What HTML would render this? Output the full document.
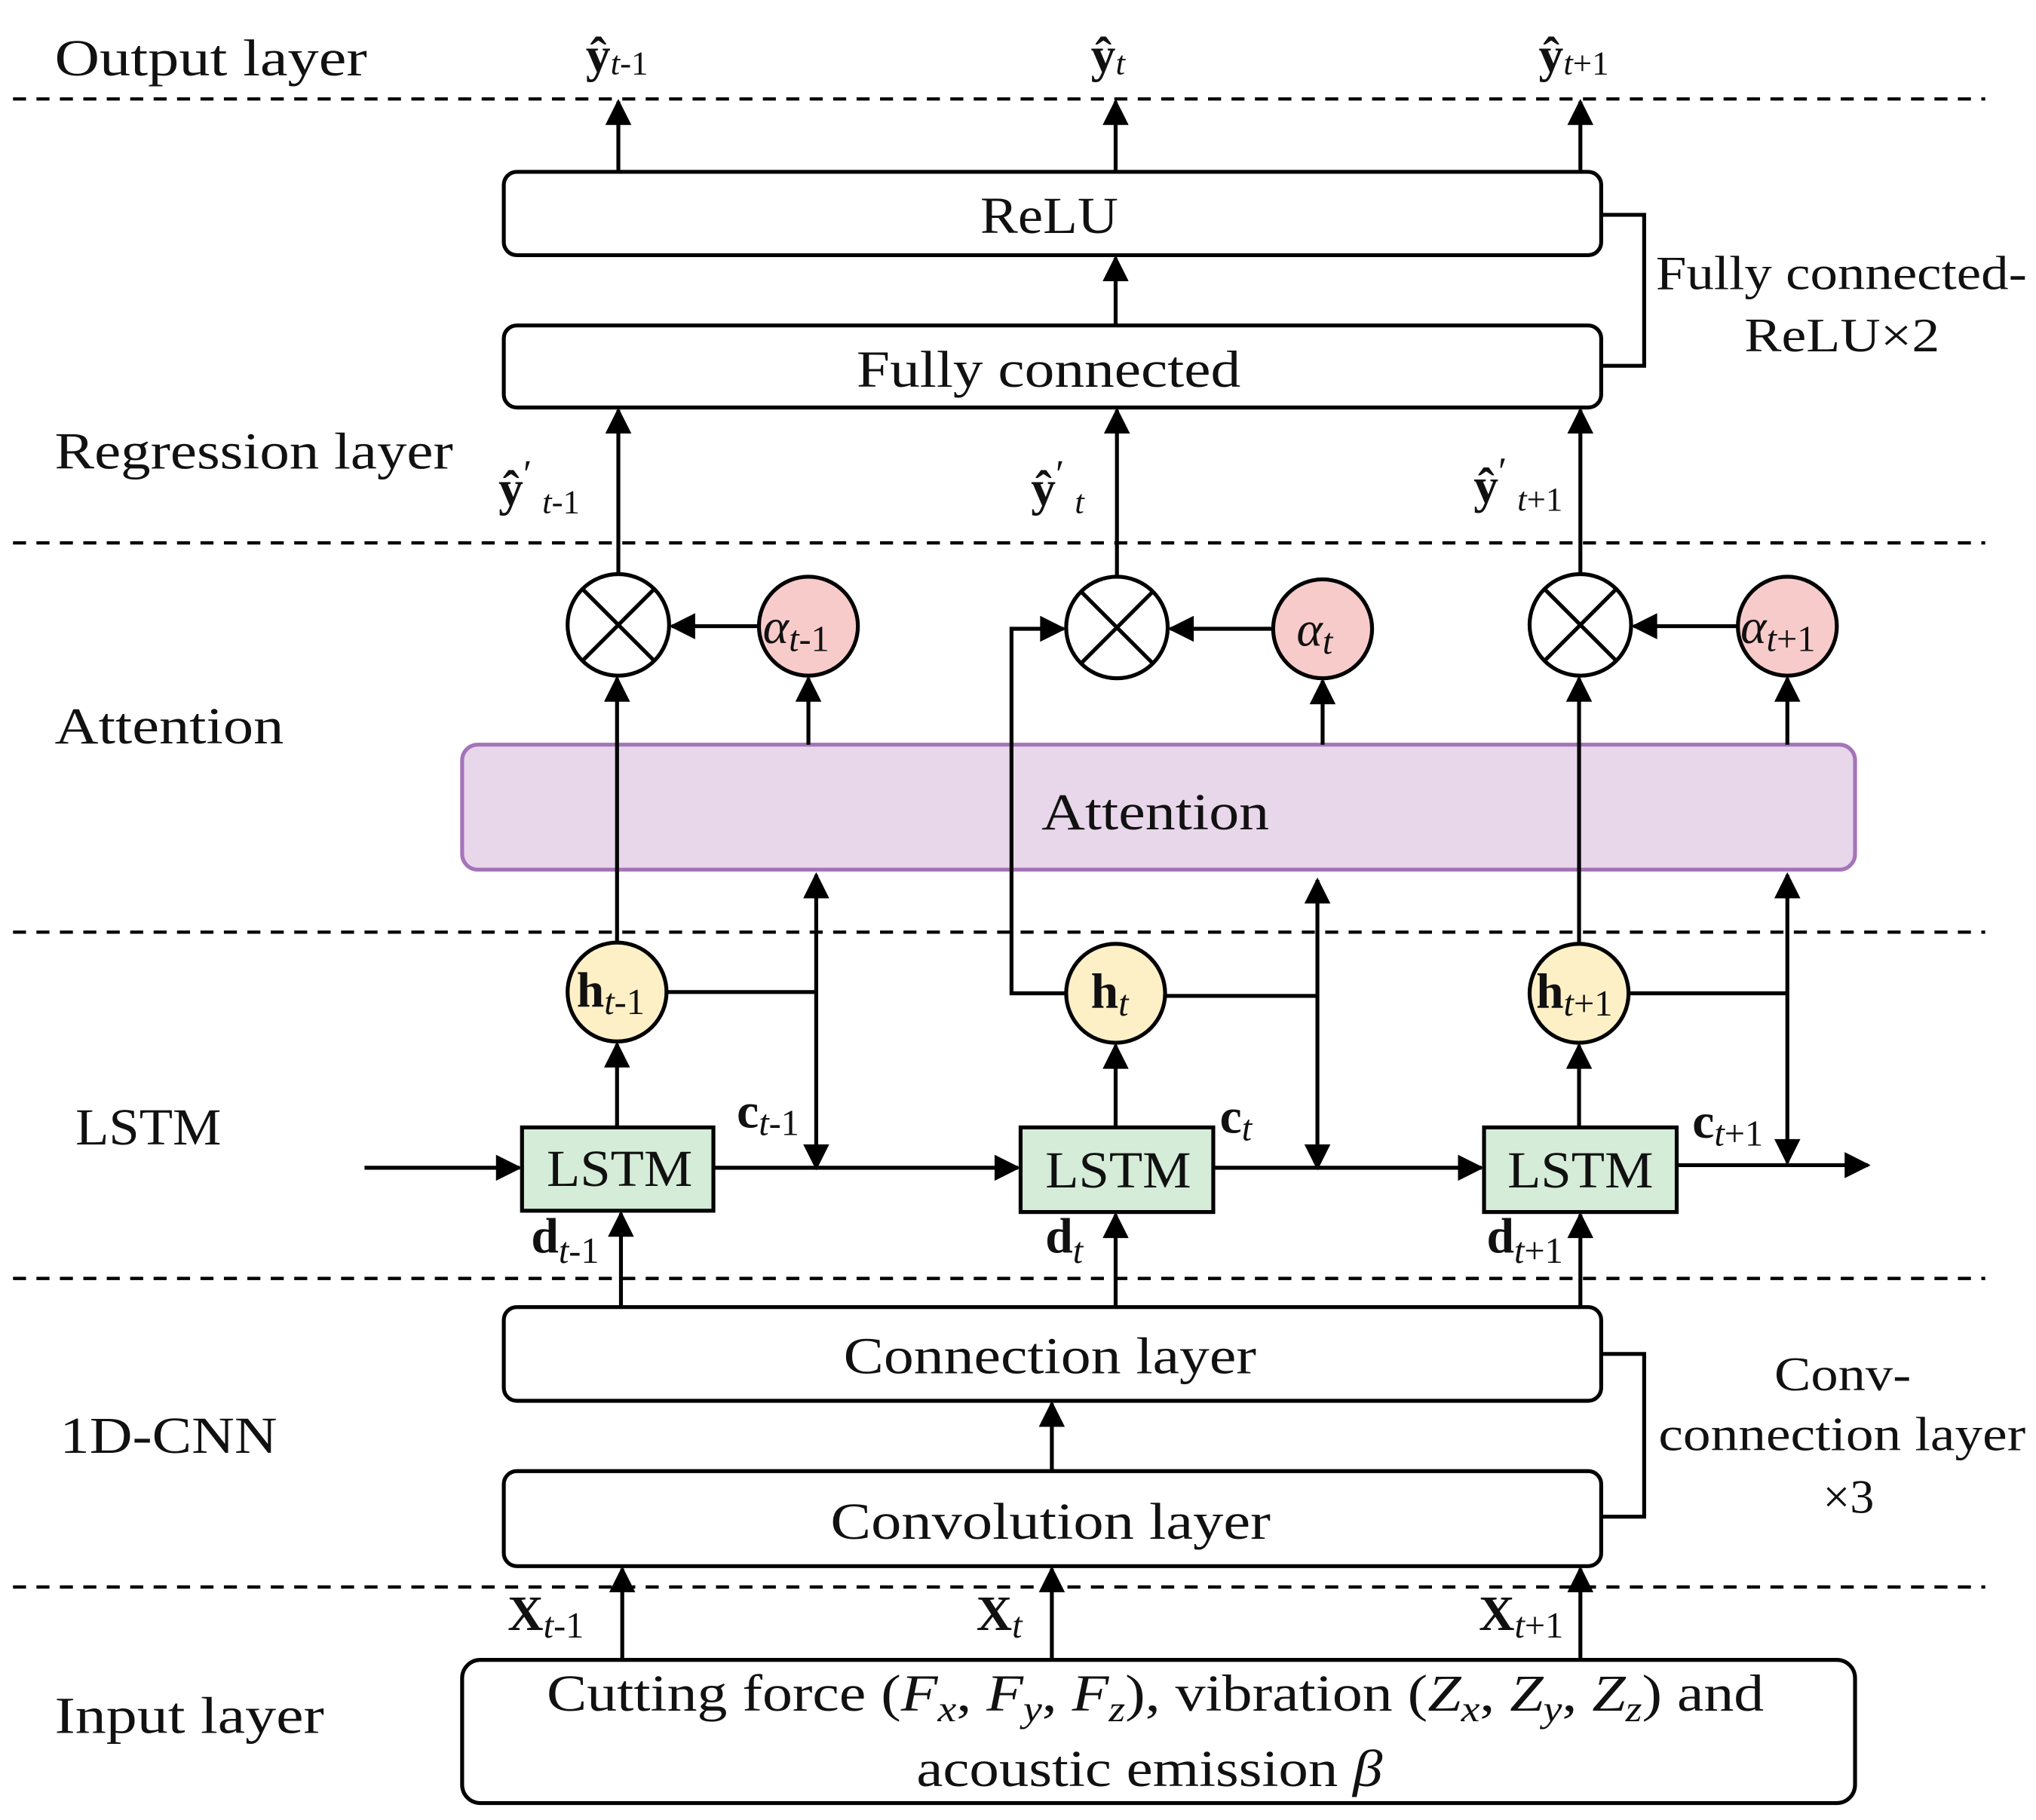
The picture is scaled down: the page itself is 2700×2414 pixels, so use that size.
<!DOCTYPE html>
<html><head><meta charset="utf-8"><style>
html,body{margin:0;padding:0;background:#fff}
svg{display:block}
text{font-family:"Liberation Serif",serif;fill:#111}
</style></head><body>
<svg width="2700" height="2414" viewBox="0 0 1564 1398" preserveAspectRatio="none" xmlns="http://www.w3.org/2000/svg">
<defs>
<marker id="b" viewBox="0 0 10 10" refX="9" refY="5" markerWidth="22" markerHeight="20" markerUnits="userSpaceOnUse" orient="auto-start-reverse"><path d="M0,0 L10,5 L0,10 z" fill="#000"/></marker>
</defs>
<g stroke="#000" stroke-width="2.5" stroke-dasharray="10,8">
<line x1="10" y1="76" x2="1525" y2="76"/><line x1="10" y1="417" x2="1525" y2="417"/>
<line x1="10" y1="716" x2="1525" y2="716"/><line x1="10" y1="982" x2="1525" y2="982"/>
<line x1="10" y1="1219" x2="1525" y2="1219"/>
</g>
<g font-size="40" lengthAdjust="spacingAndGlyphs">
<text x="42" y="58" textLength="240" lengthAdjust="spacingAndGlyphs">Output layer</text>
<text x="42" y="360" textLength="306" lengthAdjust="spacingAndGlyphs">Regression layer</text>
<text x="42" y="571" textLength="176" lengthAdjust="spacingAndGlyphs">Attention</text>
<text x="58" y="879" textLength="112" lengthAdjust="spacingAndGlyphs">LSTM</text>
<text x="46" y="1116" textLength="167" lengthAdjust="spacingAndGlyphs">1D-CNN</text>
<text x="42" y="1331" textLength="207" lengthAdjust="spacingAndGlyphs">Input layer</text>
</g>
<g font-size="38" font-weight="bold">
<text x="450" y="55">ŷ<tspan font-weight="normal" font-style="italic" font-size="26" dy="2">t</tspan><tspan font-weight="normal" font-size="26">-1</tspan></text>
<text x="838" y="55">ŷ<tspan font-weight="normal" font-style="italic" font-size="26" dy="2">t</tspan></text>
<text x="1182" y="55">ŷ<tspan font-weight="normal" font-style="italic" font-size="26" dy="2">t</tspan><tspan font-weight="normal" font-size="26">+1</tspan></text>
<text x="383" y="388">ŷ<tspan font-weight="normal" font-size="30" dy="-14">′</tspan><tspan font-weight="normal" font-style="italic" font-size="26" dy="20" dx="8">t</tspan><tspan font-weight="normal" font-size="26">-1</tspan></text>
<text x="792" y="388">ŷ<tspan font-weight="normal" font-size="30" dy="-14">′</tspan><tspan font-weight="normal" font-style="italic" font-size="26" dy="20" dx="8">t</tspan></text>
<text x="1132" y="386">ŷ<tspan font-weight="normal" font-size="30" dy="-14">′</tspan><tspan font-weight="normal" font-style="italic" font-size="26" dy="20" dx="8">t</tspan><tspan font-weight="normal" font-size="26">+1</tspan></text>
</g>
<g fill="#fff" stroke="#000" stroke-width="3">
<rect x="387" y="132" width="843" height="64" rx="10"/>
<rect x="387" y="250" width="843" height="63" rx="10"/>
<rect x="387" y="1004" width="843" height="72" rx="10"/>
<rect x="387" y="1130" width="843" height="73" rx="10"/>
<rect x="355" y="1275" width="1070" height="110" rx="14"/>
</g>
<rect x="355" y="572" width="1070" height="96" rx="12" fill="#e8d6ea" stroke="#a474b8" stroke-width="3"/>
<g font-size="40">
<text x="753" y="179" textLength="106" lengthAdjust="spacingAndGlyphs">ReLU</text>
<text x="658" y="297" textLength="295" lengthAdjust="spacingAndGlyphs">Fully connected</text>
<text x="800" y="637" textLength="175" lengthAdjust="spacingAndGlyphs">Attention</text>
<text x="648" y="1055" textLength="317" lengthAdjust="spacingAndGlyphs">Connection layer</text>
<text x="638" y="1182" textLength="338" lengthAdjust="spacingAndGlyphs">Convolution layer</text>
<text x="420" y="1314" textLength="935" lengthAdjust="spacingAndGlyphs">Cutting force (<tspan font-style="italic">F<tspan font-size="28" dy="8">x</tspan></tspan><tspan dy="-8">, </tspan><tspan font-style="italic">F<tspan font-size="28" dy="8">y</tspan></tspan><tspan dy="-8">, </tspan><tspan font-style="italic">F<tspan font-size="28" dy="8">z</tspan></tspan><tspan dy="-8">), vibration (</tspan><tspan font-style="italic">Z<tspan font-size="28" dy="8">x</tspan></tspan><tspan dy="-8">, </tspan><tspan font-style="italic">Z<tspan font-size="28" dy="8">y</tspan></tspan><tspan dy="-8">, </tspan><tspan font-style="italic">Z<tspan font-size="28" dy="8">z</tspan></tspan><tspan dy="-8">) and</tspan></text>
<text x="704" y="1372" textLength="358" lengthAdjust="spacingAndGlyphs">acoustic emission <tspan font-style="italic">β</tspan></text>
</g>
<g font-size="37">
<text x="1272" y="222" textLength="285" lengthAdjust="spacingAndGlyphs">Fully connected-</text>
<text x="1340" y="270" textLength="150" lengthAdjust="spacingAndGlyphs">ReLU×2</text>
<text x="1363" y="1068" textLength="105" lengthAdjust="spacingAndGlyphs">Conv-</text>
<text x="1274" y="1114" textLength="282" lengthAdjust="spacingAndGlyphs">connection layer</text>
<text x="1420" y="1162" text-anchor="middle">×3</text>
</g>
<g fill="none" stroke="#000" stroke-width="3">
<polyline points="1230,165 1263,165 1263,281 1230,281"/>
<polyline points="1230,1040 1263,1040 1263,1165 1230,1165"/>
</g>
<g stroke="#000" stroke-width="3" fill="none" marker-end="url(#b)">
<line x1="475" y1="132" x2="475" y2="78"/><line x1="857" y1="132" x2="857" y2="78"/><line x1="1214" y1="132" x2="1214" y2="78"/>
<line x1="857" y1="250" x2="857" y2="198"/>
<line x1="475" y1="441" x2="475" y2="315"/><line x1="858" y1="443" x2="858" y2="315"/><line x1="1214" y1="441" x2="1214" y2="315"/>
<line x1="583" y1="481" x2="516" y2="481"/><line x1="978" y1="483" x2="899" y2="483"/><line x1="1335" y1="481" x2="1255" y2="481"/>
<line x1="474" y1="724" x2="474" y2="521"/><line x1="1213" y1="725" x2="1213" y2="521"/>
<polyline points="819,763 777,763 777,483 817,483"/>
<line x1="621" y1="572" x2="621" y2="521"/><line x1="1016" y1="572" x2="1016" y2="523"/><line x1="1373" y1="572" x2="1373" y2="521"/>
<line x1="474" y1="866" x2="474" y2="802"/><line x1="857" y1="866" x2="857" y2="803"/><line x1="1213" y1="866" x2="1213" y2="803"/>
<line x1="280" y1="897" x2="399" y2="897"/><line x1="548" y1="897" x2="782" y2="897"/><line x1="932" y1="897" x2="1138" y2="897"/><line x1="1288" y1="895" x2="1435" y2="895"/>
<line x1="477" y1="1004" x2="477" y2="932"/><line x1="857" y1="1004" x2="857" y2="933"/><line x1="1214" y1="1004" x2="1214" y2="933"/>
<line x1="808" y1="1130" x2="808" y2="1078"/>
<line x1="478" y1="1275" x2="478" y2="1205"/><line x1="808" y1="1275" x2="808" y2="1205"/><line x1="1214" y1="1275" x2="1214" y2="1205"/>
</g>
<g stroke="#000" stroke-width="3" fill="none" marker-end="url(#b)" marker-start="url(#b)">
<line x1="627" y1="672" x2="627" y2="897"/><line x1="1012" y1="676" x2="1012" y2="897"/><line x1="1373" y1="672" x2="1373" y2="893"/>
</g>
<g stroke="#000" stroke-width="3">
<line x1="512" y1="762" x2="627" y2="762"/><line x1="895" y1="765" x2="1012" y2="765"/><line x1="1251" y1="763" x2="1373" y2="763"/>
</g>
<g stroke="#000" stroke-width="3">
<circle cx="475" cy="480" r="39" fill="#fff"/><circle cx="858" cy="482" r="39" fill="#fff"/><circle cx="1214" cy="480" r="39" fill="#fff"/>
<path d="M447,452 L503,508 M503,452 L447,508 M830,454 L886,510 M886,454 L830,510 M1186,452 L1242,508 M1242,452 L1186,508"/>
<circle cx="621" cy="481" r="38" fill="#f8cbcb"/><circle cx="1016" cy="483" r="38" fill="#f8cbcb"/><circle cx="1373" cy="481" r="38" fill="#f8cbcb"/>
<circle cx="474" cy="762" r="38" fill="#fdf0c6"/><circle cx="857" cy="763" r="38" fill="#fdf0c6"/><circle cx="1213" cy="763" r="38" fill="#fdf0c6"/>
<rect x="401" y="866" width="147" height="64" fill="#d5ecd8"/><rect x="784" y="866" width="148" height="65" fill="#d5ecd8"/><rect x="1140" y="866" width="148" height="65" fill="#d5ecd8"/>
</g>
<g font-size="40">
<text x="420" y="911" textLength="112" lengthAdjust="spacingAndGlyphs">LSTM</text>
<text x="803" y="912" textLength="112" lengthAdjust="spacingAndGlyphs">LSTM</text>
<text x="1158" y="912" textLength="112" lengthAdjust="spacingAndGlyphs">LSTM</text>
</g>
<g font-size="38" font-style="italic">
<text x="586" y="494">α<tspan font-size="28" dy="6">t</tspan><tspan font-size="28" font-style="normal">-1</tspan></text>
<text x="996" y="496">α<tspan font-size="28" dy="6">t</tspan></text>
<text x="1337" y="494">α<tspan font-size="28" dy="6">t</tspan><tspan font-size="28" font-style="normal">+1</tspan></text>
</g>
<g font-size="38" font-weight="bold">
<text x="443" y="773">h<tspan font-weight="normal" font-style="italic" font-size="28" dy="6">t</tspan><tspan font-weight="normal" font-size="28">-1</tspan></text>
<text x="838" y="774">h<tspan font-weight="normal" font-style="italic" font-size="28" dy="6">t</tspan></text>
<text x="1180" y="774">h<tspan font-weight="normal" font-style="italic" font-size="28" dy="6">t</tspan><tspan font-weight="normal" font-size="28">+1</tspan></text>
<text x="566" y="866">c<tspan font-weight="normal" font-style="italic" font-size="28" dy="6">t</tspan><tspan font-weight="normal" font-size="28">-1</tspan></text>
<text x="937" y="870">c<tspan font-weight="normal" font-style="italic" font-size="28" dy="6">t</tspan></text>
<text x="1300" y="874">c<tspan font-weight="normal" font-style="italic" font-size="28" dy="6">t</tspan><tspan font-weight="normal" font-size="28">+1</tspan></text>
<text x="408" y="962">d<tspan font-weight="normal" font-style="italic" font-size="28" dy="8">t</tspan><tspan font-weight="normal" font-size="28">-1</tspan></text>
<text x="803" y="962">d<tspan font-weight="normal" font-style="italic" font-size="28" dy="8">t</tspan></text>
<text x="1142" y="962">d<tspan font-weight="normal" font-style="italic" font-size="28" dy="8">t</tspan><tspan font-weight="normal" font-size="28">+1</tspan></text>
<text x="390" y="1252">X<tspan font-weight="normal" font-style="italic" font-size="28" dy="6">t</tspan><tspan font-weight="normal" font-size="28">-1</tspan></text>
<text x="750" y="1252">X<tspan font-weight="normal" font-style="italic" font-size="28" dy="6">t</tspan></text>
<text x="1136" y="1252">X<tspan font-weight="normal" font-style="italic" font-size="28" dy="6">t</tspan><tspan font-weight="normal" font-size="28">+1</tspan></text>
</g>
</svg>
</body></html>
